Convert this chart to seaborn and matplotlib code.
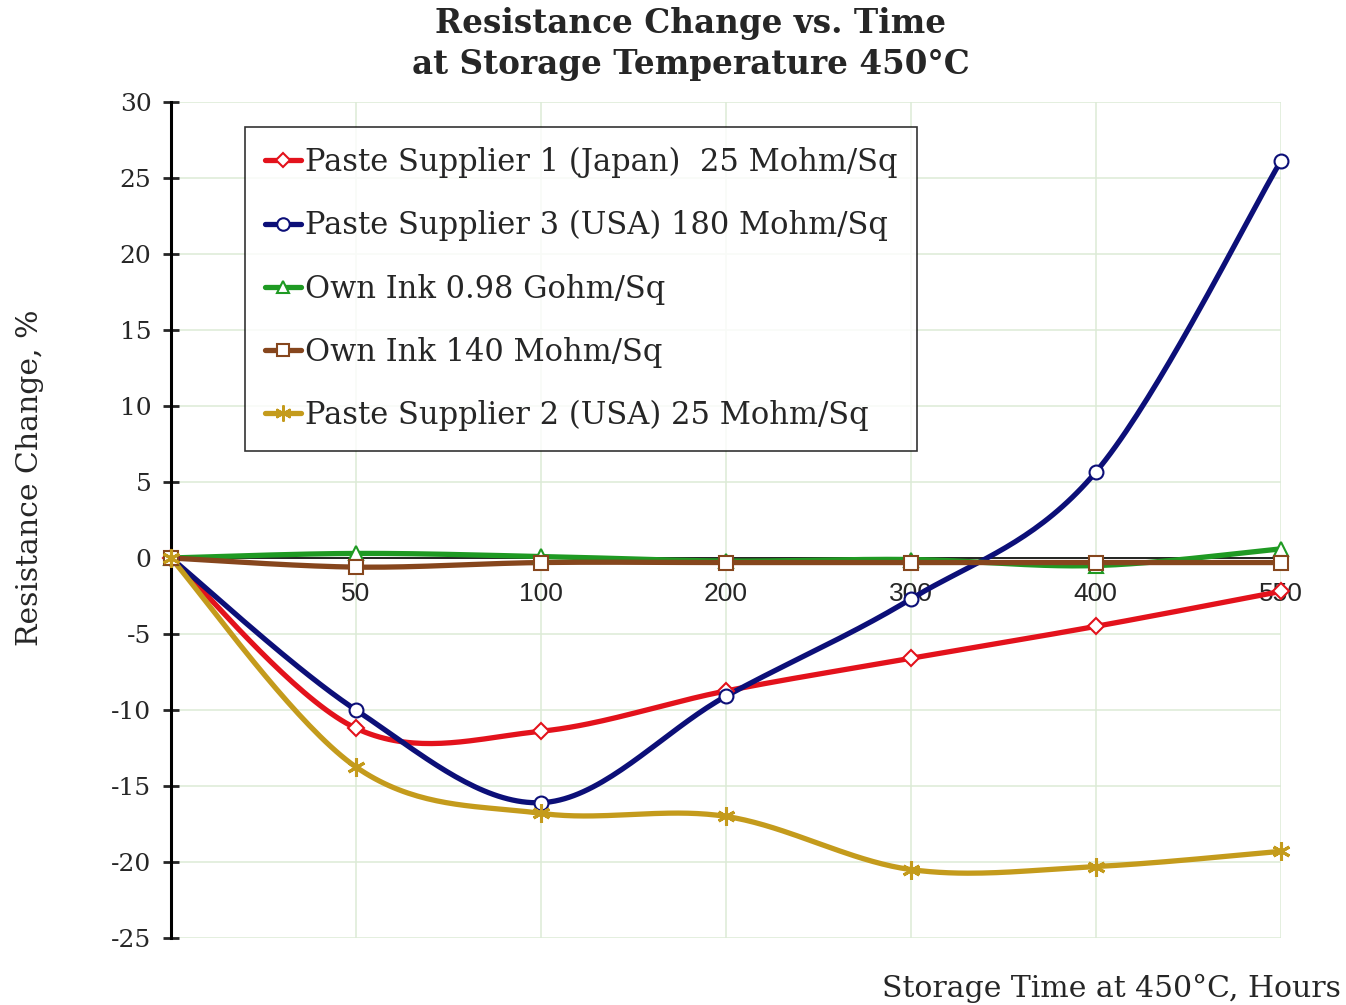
import numpy as np
import pandas as pd
import seaborn as sns
import matplotlib.pyplot as plt
from matplotlib.lines import Line2D

# hours at each measurement (plotted as equally spaced categories, like Excel)
hours = ['0', '50', '100', '200', '300', '400', '550']

supplier1_japan = [0, -11.2, -11.4, -8.75, -6.6, -4.5, -2.2]
supplier3_usa = [0, -10.0, -16.1, -9.1, -2.7, 5.65, 26.1]
own_ink_098g = [0, 0.3, 0.1, -0.2, -0.1, -0.5, 0.6]
own_ink_140m = [0, -0.6, -0.3, -0.3, -0.3, -0.3, -0.3]
supplier2_usa = [0, -13.75, -16.8, -17.0, -20.5, -20.3, -19.3]

labels = ['Paste Supplier 1 (Japan)  25 Mohm/Sq',
          'Paste Supplier 3 (USA) 180 Mohm/Sq',
          'Own Ink 0.98 Gohm/Sq',
          'Own Ink 140 Mohm/Sq',
          'Paste Supplier 2 (USA) 25 Mohm/Sq']
series = [supplier1_japan, supplier3_usa, own_ink_098g, own_ink_140m, supplier2_usa]
colors = ['#e3121c', '#0c0f78', '#1f9a23', '#86461d', '#c49b1c']
markers = ['D', 'o', '^', 's', (6, 2, 0)]
msizes = [8, 10, 10, 10, 13]

sns.set_theme(style='white')
plt.rcParams['font.family'] = 'DejaVu Serif'
plt.rcParams['axes.unicode_minus'] = False


def smooth(x, y, n=40):
    # excel-style smoothed line (catmull-rom through the points)
    p = np.column_stack([x, y]).astype(float)
    p = np.vstack([p[0], p, p[-1]])
    t = np.linspace(0, 1, n)[:, None]
    out = []
    for i in range(1, len(p) - 2):
        p0, p1, p2, p3 = p[i - 1], p[i], p[i + 1], p[i + 2]
        m1 = (p2 - p0) / 2
        m2 = (p3 - p1) / 2
        h00 = 2 * t**3 - 3 * t**2 + 1
        h10 = t**3 - 2 * t**2 + t
        h01 = -2 * t**3 + 3 * t**2
        h11 = t**3 - t**2
        out.append(h00 * p1 + h10 * m1 + h01 * p2 + h11 * m2)
    return np.vstack(out)


fig = plt.figure(figsize=(13.46, 10.05), dpi=100)
ax = fig.add_axes([0.127, 0.0667, 0.8245, 0.8318])

idx = np.arange(len(hours))
handles = []
for lab, vals, c, m, ms in zip(labels, series, colors, markers, msizes):
    curve = smooth(idx, vals)
    df = pd.DataFrame({'x': curve[:, 0], 'y': curve[:, 1]})
    sns.lineplot(data=df, x='x', y='y', sort=False, estimator=None,
                 color=c, lw=3.8, ax=ax, zorder=3)
    mfc = c if m == (6, 2, 0) else 'white'
    ax.plot(idx, vals, ls='none', marker=m, ms=ms, mfc=mfc, mec=c,
            mew=1.5 if m != (6, 2, 0) else 2.2, zorder=4, clip_on=False)
    handles.append(Line2D([], [], color=c, lw=3.8, marker=m, ms=ms * 0.9,
                          mfc=mfc, mec=c, mew=1.5))

# spines first (moving the spine resets the tick setup)
for s in ['top', 'right']:
    ax.spines[s].set_visible(False)
ax.spines['left'].set_linewidth(2.2)
ax.spines['left'].set_color('black')
ax.spines['bottom'].set_position(('data', 0))
ax.spines['bottom'].set_linewidth(1.2)
ax.spines['bottom'].set_color('black')
ax.spines['bottom'].set_zorder(2.5)

ax.set_xlim(0, 6)
ax.set_ylim(-25, 30)
ax.set_yticks(np.arange(-25, 31, 5))
ax.set_xticks(idx)
ax.set_xticklabels([''] + hours[1:], fontfamily='Liberation Sans', fontsize=19)
ax.tick_params(axis='x', length=0, pad=17)
ax.tick_params(axis='y', direction='inout', length=12, width=2, labelsize=18,
               pad=8, left=True)

ax.grid(True, color='#dcebd6', lw=1.1)
ax.set_axisbelow(True)

ax.set_xlabel('')
ax.set_ylabel('Resistance Change, %', fontsize=21.5)
ax.yaxis.set_label_coords(-0.114, 0.55)

fig.text(0.513, 0.993, 'Resistance Change vs. Time\nat Storage Temperature 450°C',
         ha='center', va='top', fontsize=23.5, fontweight='bold',
         linespacing=1.3)
fig.text(0.996, 0.016, 'Storage Time at 450°C, Hours', ha='right', va='center',
         fontsize=21.5)

leg = ax.legend(handles=handles, labels=labels, loc='upper left',
                bbox_to_anchor=(0.0667, 0.970), borderaxespad=0,
                prop={'size': 22},
                frameon=True, fancybox=False, edgecolor='black',
                handlelength=1.2, handletextpad=0.1, labelspacing=1.05,
                borderpad=0.65)
leg.get_frame().set_linewidth(1.2)

plt.savefig('out.png', dpi=100)
plt.close()
